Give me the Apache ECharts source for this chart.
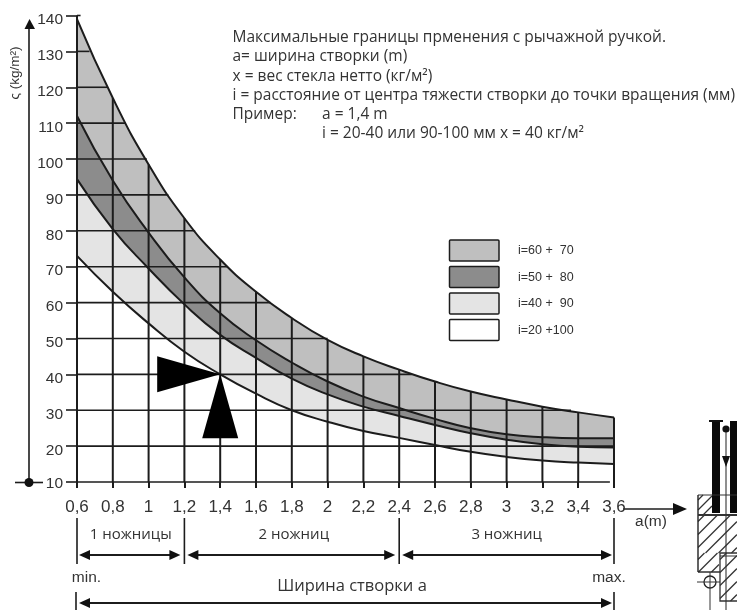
<!DOCTYPE html>
<html><head><meta charset="utf-8">
<style>html,body{margin:0;padding:0;background:#fff}#c{width:737px;height:610px}</style>
<script src="https://cdn.jsdelivr.net/npm/echarts@6/dist/echarts.min.js"></script>
</head><body><div id="c"></div>
<script>
const widths = [0.6,0.8,1,1.2,1.4,1.6,1.8,2,2.2,2.4,2.6,2.8,3,3.2,3.4,3.6];
const edge6070 = [139,117,98.5,83.5,72,63,55.7,49.6,45,41.3,38,35.2,33,31,29.4,28];
const edge5080 = [112,94,79.5,67,57,49.5,43.3,38,33.8,30.6,27.6,25,23.3,22.5,22.2,22.2];
const edge4090 = [94.4,80.5,69.5,59.5,51,44.6,38.8,34.4,31,28.4,25.9,23.6,21.8,20.5,19.8,19.6];
const edge20100 = [73,63,54.2,46.3,40,34.6,30,26.8,24.2,22.3,20.3,18.4,17,16,15.4,15];
const loads = [10,20,30,40,50,60,70,80,90,100,110,120,130,140];
const loadLineEnds = [3.577,3.6,3.36,2.47,2.0,1.68,1.44,1.26,1.11,0.99,0.87,0.77,0.67,0.62];
const widthLineTops = [140,117,98.5,83.5,72,63,55.7,49.6,45,41.3,38,35.2,33,31,29.4,28];
const examplePoint = [1.4,40];
const scissorBreaks = [0.6,1.2,2.4,3.6];
const scissorLabels = ['1 ножницы','2 ножниц','3 ножниц'];
const legendLabels = ['i=60 +  70','i=50 +  80','i=40 +  90','i=20 +100'];
const legendColors = ['#bfbfbf','#8c8c8c','#e4e4e4','#ffffff'];
const noteLines = ['Максимальные границы прменения с рычажной ручкой.','a= ширина створки (m)','x = вес стекла нетто (кг/м²)','i = расстояние от центра тяжести створки до точки вращения (мм)','Пример:'];
const noteExample = ['a = 1,4 m','i = 20-40 или 90-100 мм x = 40 кг/м²'];

const INK = '#1c1c1c', TXT = '#333', SANS = '"Liberation Sans",Arial,sans-serif', NOTE = '"Open Sans","Noto Sans",sans-serif';
const zip = a => widths.map((w,i)=>[w,a[i]]);
const band = (name,a,c) => ({name,type:'line',data:zip(a),smooth:0.5,symbol:'none',clip:false,
  lineStyle:{color:INK,width:2},areaStyle:{color:c,opacity:1,origin:'start'},itemStyle:{color:c},z:2});
const gridSeg = (data,w,f) => ({type:'custom',data,clip:false,silent:true,z:3,
  encode:{x:0,y:1},renderItem(p,api){
    const [a,b]=f(api);
    return {type:'line',shape:{x1:a[0],y1:a[1],x2:b[0],y2:b[1]},style:{stroke:INK,lineWidth:w}};
  }});
const tickFont = {fontFamily:SANS,fontSize:15.5,color:TXT};

const chart = echarts.init(document.getElementById('c'),null,{renderer:'canvas'});
chart.setOption({
  animation:false,backgroundColor:'#fff',
  grid:{left:77,right:123,top:15.5,bottom:128,containLabel:false},
  xAxis:{type:'value',min:0.6,max:3.6,interval:0.2,splitLine:{show:false},axisLine:{show:false},
    axisTick:{show:true,length:6,lineStyle:{color:INK,width:2}},
    axisLabel:Object.assign({margin:17,hideOverlap:false,showMinLabel:true,showMaxLabel:true,
      formatter:v=>String(+v.toFixed(1)).replace('.',',')},tickFont,{fontSize:17})},
  yAxis:{type:'value',min:10,max:140,interval:10,splitLine:{show:false},axisLine:{show:false},
    axisTick:{show:true,length:11,lineStyle:{color:INK,width:1.6}},
    axisLabel:Object.assign({margin:14,showMinLabel:true,showMaxLabel:true,
      formatter:v=>v===10?'{m|10}':'{n|'+v+'}',
      rich:{n:Object.assign({padding:[9,0,0,0]},tickFont),m:Object.assign({padding:[3,0,0,0]},tickFont)}},tickFont)},
  series:[
    band(legendLabels[0],edge6070,legendColors[0]),
    band(legendLabels[1],edge5080,legendColors[1]),
    band(legendLabels[2],edge4090,legendColors[2]),
    band(legendLabels[3],edge20100,legendColors[3]),
    gridSeg(loads.map((v,i)=>[0.6,v,loadLineEnds[i]]),1.6,api=>[api.coord([0.6,api.value(1)]),api.coord([api.value(2),api.value(1)])]),
    gridSeg(widths.map((w,i)=>[w,10,widthLineTops[i]]),2,api=>[api.coord([api.value(0),10]),api.coord([api.value(0),api.value(2)])]),
    {type:'custom',data:[examplePoint],clip:false,silent:true,z:4,encode:{x:0,y:1},
      renderItem(p,api){
        const t=api.coord([api.value(0),api.value(1)]);
        return {type:'group',children:[
          {type:'polygon',shape:{points:[t,[t[0]-63,t[1]-18],[t[0]-63,t[1]+18]]},style:{fill:'#000'}},
          {type:'polygon',shape:{points:[t,[t[0]-18,t[1]+64],[t[0]+18,t[1]+64]]},style:{fill:'#000'}}
        ]};
      }}
  ]
});

const px = v => chart.convertToPixel({xAxisIndex:0},v);
const g = [];
const line = (x1,y1,x2,y2,w=1.6,c=INK) => g.push({type:'line',silent:true,shape:{x1,y1,x2,y2},style:{stroke:c,lineWidth:w}});
const tri = (pts,c='#111') => g.push({type:'polygon',silent:true,shape:{points:pts},style:{fill:c}});
const text = (t,x,y,size,font,align='center',extra={}) => g.push(Object.assign({type:'text',silent:true,x,y,
  style:{text:t,fontSize:size,fontFamily:font,fill:TXT,textAlign:align,textVerticalAlign:'middle'}},extra));
const dbl = (x1,x2,y) => { line(x1+6,y,x2-6,y,2);
  tri([[x1,y],[x1+11,y-5],[x1+11,y+5]]); tri([[x2,y],[x2-11,y-5],[x2-11,y+5]]); };

// load axis with arrow and origin dot
line(29,27,29,482,1.6); tri([[29.5,19],[24.5,29],[35,29]]); line(15,482.5,43,482.5,1.6);
g.push({type:'circle',silent:true,shape:{cx:29,cy:482.5,r:4.5},style:{fill:'#111'}});
text('ς (kg/m²)',15,73,13.5,SANS,'center',{rotation:Math.PI/2});

// scissors brackets
scissorBreaks.forEach(b=>line(px(b),518,px(b),564,1.6));
scissorBreaks.slice(0,-1).forEach((b,i)=>{
  const a=px(b),c=px(scissorBreaks[i+1]);
  dbl(a+(i?3:2),c-(i==2?2:4),555);
  text(scissorLabels[i],(a+c)/2+(i==1?2:0),535,15,NOTE);
});
text('min.',86.5,578,15.5,SANS); text('max.',609,578,15.5,SANS);
const a0=px(0.6),a1=px(3.6);
line(a0-1,592,a0-1,610,1.6); line(a1,592,a1,610,1.6); dbl(a0+2,a1-2,603);
text('Ширина створки а',352,586,16.5,NOTE);

// width axis arrow
line(623,509,676,509,1.6); tri([[687,509],[673,503],[673,515]]);
text('a(m)',651,522,15.5,SANS);

// legend
legendLabels.forEach((l,i)=>{
  const y=[240,266.5,293,319.5][i];
  g.push({type:'rect',silent:true,shape:{x:449.5,y,width:49.5,height:21,r:1},style:{fill:legendColors[i],stroke:INK,lineWidth:1.5}});
  text(l,518,y+11,12.5,SANS,'left');
});

// note
noteLines.forEach((t,i)=>text(t,232.5,37.5+i*19.3,15.5,NOTE,'left'));
text(noteExample[0],322,114.7,15.5,NOTE,'left'); text(noteExample[1],322,134,15.5,NOTE,'left');

// mechanism sketch
const hatch=(x0,y0,x1,y1,step,w=1.3)=>{
  for(let s=x0+y0+step/2;s<x1+y1;s+=step){
    let ax=Math.max(x0,s-y1),ay=s-ax,bx=Math.min(x1,s-y0),by=s-bx;
    if(bx>ax) line(ax,ay,bx,by,w,'#333');
  }};
hatch(698,515,737,553,13); hatch(698,553,719,572,13); hatch(720,553,737,601,13);
hatch(698,495,712,515,10);
g.push({type:'rect',silent:true,shape:{x:712,y:421,width:8,height:92},style:{fill:'#0a0a0a'}});
g.push({type:'rect',silent:true,shape:{x:730,y:421,width:7,height:92},style:{fill:'#0a0a0a'}});
line(709,421,723,421,2,'#111');
line(698,495,737,495,1.1,'#333'); line(698,495,698,572,1.4,'#222'); line(698,515,737,515,2,'#333');
line(698,572,720,572,1.4,'#222');
line(726,429,726,610,1.1,'#333');
g.push({type:'circle',silent:true,shape:{cx:726,cy:429,r:3.6},style:{fill:'#111'}});
tri([[726,467],[722,456],[730,456]],'#111');
g.push({type:'rect',silent:true,shape:{x:720,y:553,width:20,height:48},style:{fill:'none',stroke:'#333',lineWidth:1.3}});
line(720,556,737,556,1,'#333');
g.push({type:'circle',silent:true,shape:{cx:710,cy:582,r:6},style:{fill:'#fff',stroke:'#222',lineWidth:1.3}});
line(697,582,720,582,1,'#333'); line(710,572,710,610,1,'#333');

chart.setOption({graphic:{elements:g}});
</script></body></html>
